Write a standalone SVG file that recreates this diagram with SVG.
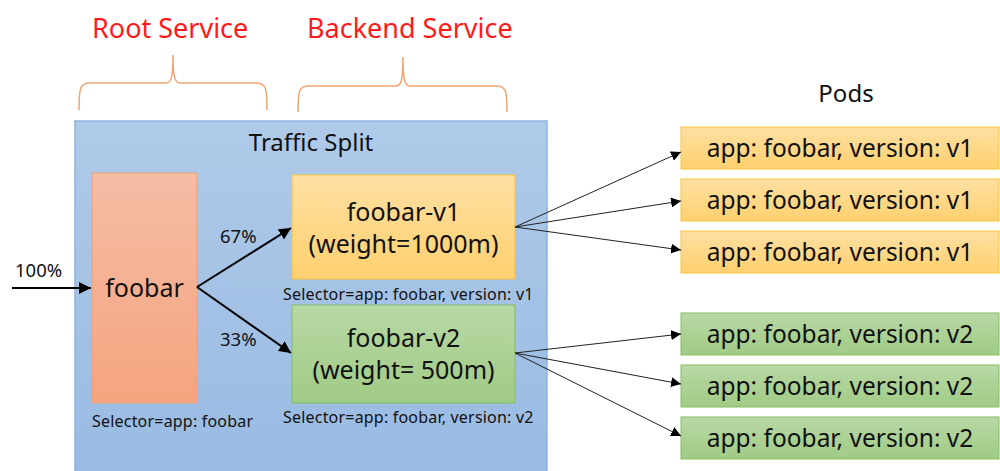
<svg xmlns="http://www.w3.org/2000/svg" width="1000" height="471" viewBox="0 0 1000 471">
  <defs>
    <linearGradient id="gBlue" x1="0" y1="0" x2="0" y2="1">
      <stop offset="0" stop-color="#B0CAE8"/>
      <stop offset="1" stop-color="#98BAE3"/>
    </linearGradient>
    <linearGradient id="gSalmon" x1="0" y1="0" x2="0" y2="1">
      <stop offset="0" stop-color="#F5BCA5"/>
      <stop offset="1" stop-color="#F5A47F"/>
    </linearGradient>
    <linearGradient id="gYellow" x1="0" y1="0" x2="0" y2="1">
      <stop offset="0" stop-color="#FFE0A3"/>
      <stop offset="1" stop-color="#FFD06E"/>
    </linearGradient>
    <linearGradient id="gGreen" x1="0" y1="0" x2="0" y2="1">
      <stop offset="0" stop-color="#B8D8A5"/>
      <stop offset="1" stop-color="#A0CB85"/>
    </linearGradient>
    <marker id="arrow" viewBox="0 0 10 10" refX="10" refY="5" markerWidth="10" markerHeight="10" markerUnits="userSpaceOnUse" orient="auto">
      <path d="M0,0 L10,5 L0,10 z" fill="#000"/>
    </marker>
    <marker id="arrowBig" viewBox="0 0 10 10" refX="10" refY="5" markerWidth="6" markerHeight="6" orient="auto">
      <path d="M0,0 L10,5 L0,10 z" fill="#000"/>
    </marker>
  </defs>
  <style>
    text { font-family: "Noto Sans", "Liberation Sans", sans-serif; fill: #111; }
    .title { font-size: 27px; fill: #FF1A1A; }
    .head { font-size: 24px; text-anchor: middle; }
    .big { font-size: 25px; text-anchor: middle; }
    .pod { font-size: 24.5px; text-anchor: middle; }
    .sel { font-size: 16px; letter-spacing: 0.2px; }
    .pct { font-size: 18.5px; }
    .brace { fill: none; stroke: #F4A572; stroke-width: 1.5; }
    .yellow { fill: url(#gYellow); stroke: #F3C343; stroke-width: 1; }
    .green { fill: url(#gGreen); stroke: #86BC63; stroke-width: 1; }
    .thick { stroke: #000; stroke-width: 2; fill: none; }
    .thin { stroke: #222; stroke-width: 1; fill: none; }
  </style>

  <rect width="1000" height="471" fill="#FFFFFF"/>

  <!-- section labels with braces -->
  <g id="root-service-label">
    <text class="title" x="92" y="38">Root Service</text>
    <path class="brace" d="M79,110 C79,88 80,83 90,83 L166,83 C171,83 173,78 173,55 C173,78 175,83 180,83 L256,83 C266,83 267,88 267,110"/>
  </g>
  <g id="backend-service-label">
    <text class="title" x="307" y="38">Backend Service</text>
    <path class="brace" d="M298,112 C298,90 299,86 309,86 L396,86 C401,86 403,81 403,57 C403,81 405,86 410,86 L496,86 C506,86 507,90 507,112"/>
  </g>

  <!-- traffic split container -->
  <g id="traffic-split">
    <rect x="75" y="121" width="472" height="360" fill="url(#gBlue)" stroke="#8DB3E2" stroke-width="1.5"/>
    <text class="head" x="311" y="151">Traffic Split</text>
  </g>

  <g id="foobar">
    <rect x="92" y="173" width="105" height="230" fill="url(#gSalmon)" stroke="#F0A07E" stroke-width="1"/>
    <text class="big" x="144.5" y="297">foobar</text>
    <text class="sel" x="92" y="427">Selector=app: foobar</text>
  </g>

  <g id="foobar-v1">
    <rect class="yellow" x="292" y="175" width="223" height="104"/>
    <text class="big" x="403.5" y="221">foobar-v1</text>
    <text class="big" x="403.5" y="253">(weight=1000m)</text>
    <text class="sel" x="283" y="300">Selector=app: foobar, version: v1</text>
  </g>

  <g id="foobar-v2">
    <rect class="green" x="292" y="305" width="223" height="98"/>
    <text class="big" x="403.5" y="347">foobar-v2</text>
    <text class="big" x="403.5" y="379">(weight= 500m)</text>
    <text class="sel" x="283" y="423">Selector=app: foobar, version: v2</text>
  </g>

  <g id="pods">
    <text class="head" x="846" y="102">Pods</text>
    <g id="pod-v1-a"><rect class="yellow" x="681" y="127" width="318" height="42"/><text class="pod" x="840" y="157">app: foobar, version: v1</text></g>
    <g id="pod-v1-b"><rect class="yellow" x="681" y="179" width="318" height="42"/><text class="pod" x="840" y="209">app: foobar, version: v1</text></g>
    <g id="pod-v1-c"><rect class="yellow" x="681" y="231" width="318" height="42"/><text class="pod" x="840" y="261">app: foobar, version: v1</text></g>
    <g id="pod-v2-a"><rect class="green" x="681" y="313" width="318" height="42"/><text class="pod" x="840" y="343">app: foobar, version: v2</text></g>
    <g id="pod-v2-b"><rect class="green" x="681" y="365" width="318" height="42"/><text class="pod" x="840" y="395">app: foobar, version: v2</text></g>
    <g id="pod-v2-c"><rect class="green" x="681" y="417" width="318" height="42"/><text class="pod" x="840" y="447">app: foobar, version: v2</text></g>
  </g>

  <!-- connectors -->
  <g id="connectors">
    <line class="thick" x1="12" y1="288" x2="91" y2="288" marker-end="url(#arrowBig)"/>
    <text class="pct" x="15" y="277">100%</text>
    <line class="thick" x1="197" y1="287" x2="291" y2="228" marker-end="url(#arrowBig)"/>
    <text class="pct" x="220" y="243">67%</text>
    <line class="thick" x1="197" y1="287" x2="291" y2="353" marker-end="url(#arrowBig)"/>
    <text class="pct" x="220" y="346">33%</text>

    <line class="thin" x1="515" y1="227" x2="681" y2="152" marker-end="url(#arrow)"/>
    <line class="thin" x1="515" y1="227" x2="681" y2="201" marker-end="url(#arrow)"/>
    <line class="thin" x1="515" y1="227" x2="681" y2="250" marker-end="url(#arrow)"/>
    <line class="thin" x1="515" y1="353" x2="681" y2="334" marker-end="url(#arrow)"/>
    <line class="thin" x1="515" y1="353" x2="681" y2="384" marker-end="url(#arrow)"/>
    <line class="thin" x1="515" y1="353" x2="681" y2="436" marker-end="url(#arrow)"/>
  </g>
</svg>
